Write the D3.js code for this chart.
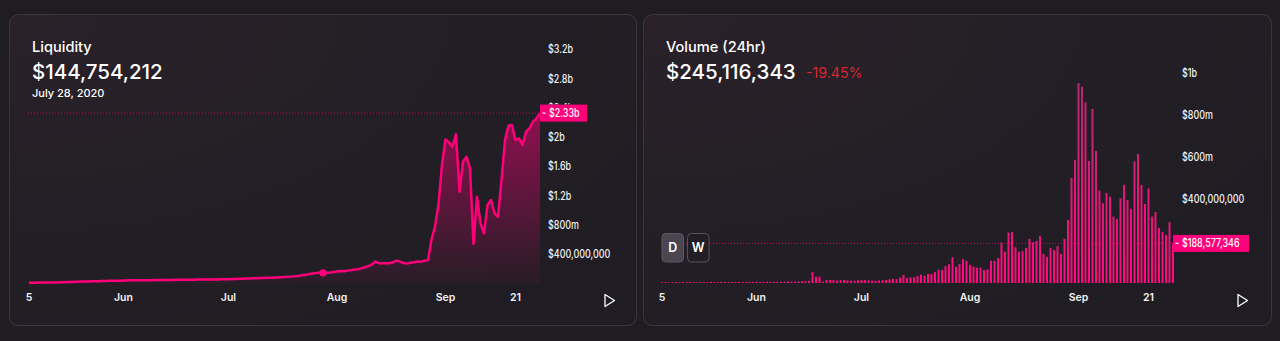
<!DOCTYPE html>
<html><head><meta charset="utf-8">
<script src="https://cdn.jsdelivr.net/npm/d3@7"></script>
<style>html,body{margin:0;padding:0;background:#1f1d22;overflow:hidden}svg{display:block}</style>
</head><body><svg id="c" width="1280" height="341"></svg>
<script>
// ---------- DATA ----------
const startDay = "2020-05-05";
const endDay = "2020-09-28";
// Liquidity (USD millions), one per day May 5 .. Sep 28 2020
const liquidity = [
 10,11,11,12,12,13,13,14,15,16,18,20,22,23,25,26,27,28,30,31,32,34,35,36,37,38,39,40,41,43,44,
 44,45,45,46,46,47,47,48,48,49,49,50,50,51,51,52,52,53,53,54,54,55,55,56,57,
 58,59,61,62,64,65,67,69,71,72,74,76,78,80,82,83,85,
 88,91,94,98,104,112,120,128,138,142,150,144.754212,
 148,152,158,165,171,168,176,182,190,196,208,222,239,
 260,300,278,276,277,276,290,312,300,280,272,285,290,300,298,310,320,600,780,1080,1630,
 1970,1930,1870,2040,1255,1665,1734,1575,540,1187,823,686,1074,1142,960,913,1415,1962,2158,2167,1962,1985,1894,2076,2122,2213,2259,2330
];
// Volume 24h (USD millions), one per day
const volume = [
 3,4,3,4,4,3,4,4,5,4,3,4,4,4,5,4,4,5,5,4,4,5,5,5,4,5,5,6,5,5,6,6,5,6,6,
 6,7,7,6,8,9,8,10,
 52,30,30,6,14,14,14,12,14,14,12,11,11,13,14,14,13,11,11,12,13,14,18,19,18,25,38,24,27,27,
 33,40,35,43,43,52,63,62,81,90,122,78,90,114,105,86,78,73,73,62,65,106,106,119,192,149,240,243,170,149,152,167,210,194,201,224,138,
 124,167,157,176,138,210,300,500,586,952,935,860,581,829,629,440,380,429,411,316,305,403,467,395,352,579,614,467,376,451,316,337,262,244,229,290,188.577346
];
const liqTickValues = [400,800,1200,1600,2000,2400,2800,3200];
const liqTickLabels = ["$400,000,000","$800m","$1.2b","$1.6b","$2b","$2.4b","$2.8b","$3.2b"];
const volTickValues = [400,600,800,1000];
const volTickLabels = ["$400,000,000","$600m","$800m","$1b"];
const xTickDates = ["2020-05-05","2020-06-01","2020-07-01","2020-08-01","2020-09-01","2020-09-21"];
const xTickLabels = ["5","Jun","Jul","Aug","Sep","21"];
const hoverDate = "2020-07-28";
const liqTitle = "Liquidity", liqValue = "$144,754,212", liqDate = "July 28, 2020", liqCurrent = "$2.33b";
const volTitle = "Volume (24hr)", volValue = "$245,116,343", volChange = "-19.45%", volCurrent = "$188,577,346";

// ---------- SETUP ----------
const parse = d3.timeParse("%Y-%m-%d");
const days = d3.timeDay.range(parse(startDay), d3.timeDay.offset(parse(endDay), 1));
const liqData = days.map((d, i) => ({date: d, v: liquidity[i]}));
const volData = days.map((d, i) => ({date: d, v: volume[i]}));
const tickDates = xTickDates.map(parse);

const svg = d3.select("#c");
const FONT = "Inter, 'Noto Sans', sans-serif";
const SQ = 0.8; // horizontal squeeze of the narrow axis font
svg.append("rect").attr("width",1280).attr("height",341).attr("fill","#1f1d22");

const defs = svg.append("defs");
const cg = defs.append("radialGradient").attr("id","cardGrad").attr("cx","0%").attr("cy","0%").attr("r","120%");
cg.append("stop").attr("offset","0%").attr("stop-color","#2a2129");
cg.append("stop").attr("offset","100%").attr("stop-color","#1f1d23");

function card(x, w) {
  svg.append("rect").attr("x",x+0.5).attr("y",14.5).attr("width",w).attr("height",311)
    .attr("rx",9).attr("fill","url(#cardGrad)").attr("stroke","#3a383f").attr("stroke-width",1);
}
card(9, 627);
card(643, 628);

function header(x, title, value) {
  svg.append("text").attr("x",x).attr("y",52).attr("fill","#fff").attr("font-family",FONT)
    .attr("font-size",14.6).attr("font-weight",500).text(title);
  return svg.append("text").attr("x",x).attr("y",78.5).attr("fill","#fff").attr("font-family",FONT)
    .attr("font-size",20.5).attr("font-weight",500).text(value);
}

function xAxis(g, x) {
  g.selectAll("text.xt").data(tickDates).join("text").attr("class","xt")
    .attr("x", d => x(d)).attr("y", 297).attr("dy","0.35em").attr("text-anchor","middle")
    .attr("fill","#f2f2f2").attr("font-family",FONT).attr("font-size",10.5).attr("font-weight",600)
    .text((d,i) => xTickLabels[i]);
}
function yAxis(g, y, vals, labels, x0, clipId) {
  g.selectAll("text.yt").data(vals).join("text").attr("class","yt")
    .attr("transform", d => `translate(${x0},${y(d)}) scale(${SQ},1)`)
    .attr("dy","0.35em")
    .attr("fill","#f0f0f0").attr("font-family",FONT).attr("font-size",11.2).attr("font-weight",500)
    .text((d,i) => labels[i]);
}
function playIcon(x) {
  svg.append("path").attr("d",`M${x},294.5 L${x+9.5},300.5 L${x},306.5 Z`)
    .attr("fill","none").attr("stroke","#fff").attr("stroke-width",1.3).attr("stroke-linejoin","round");
}
function currentLabel(xl, yv, text, w) {
  const g = svg.append("g");
  g.append("rect").attr("x",xl).attr("y",yv-8.5).attr("width",w).attr("height",17).attr("fill","#ff007a");
  g.append("line").attr("x1",xl+2.5).attr("x2",xl+5.5).attr("y1",yv).attr("y2",yv).attr("stroke","#fff").attr("stroke-width",1.2);
  g.append("text").attr("transform",`translate(${xl+9},${yv}) scale(${SQ},1)`).attr("dy","0.35em").attr("fill","#fff")
    .attr("font-family",FONT).attr("font-size",11.2).attr("font-weight",500).text(text);
}

// ---------- LIQUIDITY ----------
const xL = d3.scaleTime().domain([days[0], days[days.length-1]]).range([29, 540]);
const yL = d3.scaleLinear().domain([0, 3200]).range([283.5, 49.5]);
header(32, liqTitle, liqValue);
svg.append("text").attr("x",32).attr("y",97).attr("fill","#fff").attr("font-family",FONT)
  .attr("font-size",11).attr("font-weight",500).text(liqDate);

const ag = defs.append("linearGradient").attr("id","areaGrad").attr("gradientUnits","userSpaceOnUse")
  .attr("x1",0).attr("x2",0).attr("y1",yL(2330)).attr("y2",yL(0));
ag.append("stop").attr("offset","0%").attr("stop-color","#ff007a").attr("stop-opacity",0.5);
ag.append("stop").attr("offset","100%").attr("stop-color","#ff007a").attr("stop-opacity",0.04);

const gL = svg.append("g");
gL.append("path").datum(liqData).attr("fill","url(#areaGrad)")
  .attr("d", d3.area().x(d => xL(d.date)).y0(yL(0)).y1(d => yL(d.v)));
const lastL = liqData[liqData.length-1];
gL.append("line").attr("x1",28).attr("x2",xL(lastL.date)).attr("y1",yL(lastL.v)).attr("y2",yL(lastL.v))
  .attr("stroke","#ff007a").attr("stroke-opacity",0.7).attr("stroke-width",1).attr("stroke-dasharray","1,2");
gL.append("path").datum(liqData).attr("fill","none").attr("stroke","#ff007a").attr("stroke-width",2.5)
  .attr("stroke-linejoin","round")
  .attr("d", d3.line().x(d => xL(d.date)).y(d => yL(d.v)));
const hov = liqData.find(d => +d.date === +parse(hoverDate));
gL.append("circle").attr("cx",xL(hov.date)).attr("cy",yL(hov.v)).attr("r",3.6).attr("fill","#ff007a");
// clip y labels so the one under the current-value tag only peeks out above it
const lclip = defs.append("clipPath").attr("id","lclip");
lclip.append("rect").attr("x",540).attr("y",0).attr("width",100).attr("height",yL(lastL.v)-8.5);
lclip.append("rect").attr("x",540).attr("y",yL(lastL.v)+8.5).attr("width",100).attr("height",300);
const gLy = gL.append("g").attr("clip-path","url(#lclip)");
yAxis(gLy, yL, liqTickValues, liqTickLabels, 548);
xAxis(gL, xL);
currentLabel(540, yL(lastL.v), liqCurrent, 47);
playIcon(605);

// ---------- VOLUME ----------
const xV = d3.scaleTime().domain([days[0], days[days.length-1]]).range([662, 1173]);
const yV = d3.scaleLinear().domain([0, 1000]).range([283, 73]);
header(666, volTitle, volValue);
svg.append("text").attr("x",806).attr("y",78).attr("fill","#d7262e").attr("font-family",FONT)
  .attr("font-size",14.2).attr("font-weight",400).text(volChange);

const bg = defs.append("linearGradient").attr("id","barGrad").attr("gradientUnits","userSpaceOnUse")
  .attr("x1",0).attr("x2",0).attr("y1",yV(1000)).attr("y2",yV(0));
bg.append("stop").attr("offset","0%").attr("stop-color","#b52a72");
bg.append("stop").attr("offset","100%").attr("stop-color","#ff0a80");

const gV = svg.append("g");
gV.selectAll("rect.bar").data(volData).join("rect").attr("class","bar")
  .attr("x", d => xV(d.date) - 1).attr("width", 2)
  .attr("y", d => yV(d.v)).attr("height", d => yV(0) - yV(d.v))
  .attr("fill","url(#barGrad)");
const lastV = volData[volData.length-1];
gV.append("line").attr("x1",662).attr("x2",xV(lastV.date)).attr("y1",yV(lastV.v)).attr("y2",yV(lastV.v))
  .attr("stroke","#ff007a").attr("stroke-opacity",0.7).attr("stroke-width",1).attr("stroke-dasharray","1,2");
yAxis(gV, yV, volTickValues, volTickLabels, 1182);
xAxis(gV, xV);
currentLabel(1173, yV(lastV.v), volCurrent, 76);
playIcon(1238);

// D / W buttons
const btns = [{t:"D", x:662, fill:"#4a4551", stroke:"#5d5864"}, {t:"W", x:687.5, fill:"#221e26", stroke:"#56525c"}];
btns.forEach(b => {
  svg.append("rect").attr("x",b.x).attr("y",233.5).attr("width",21.5).attr("height",28.5).attr("rx",4)
    .attr("fill",b.fill).attr("stroke",b.stroke).attr("stroke-width",1);
  svg.append("text").attr("x",b.x+10.75).attr("y",248).attr("dy","0.35em").attr("text-anchor","middle")
    .attr("fill","#fff").attr("font-family",FONT).attr("font-size",12.5).attr("font-weight",600).text(b.t);
});
</script></body></html>
